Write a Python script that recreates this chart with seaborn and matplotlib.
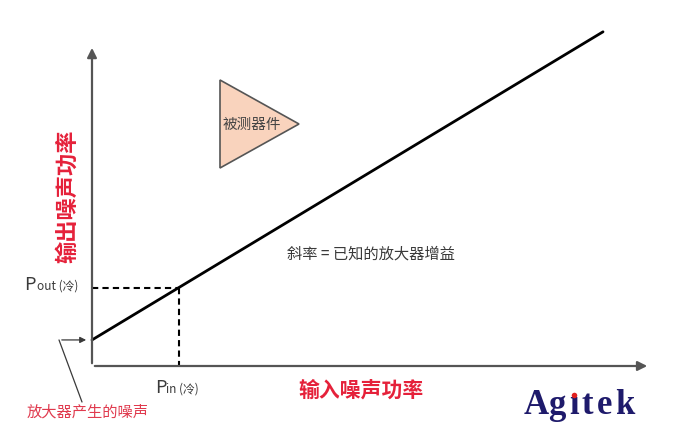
import numpy as np
import pandas as pd
import matplotlib
matplotlib.use("Agg")
import matplotlib.pyplot as plt
import seaborn as sns
from matplotlib.patches import Polygon

# data (arbitrary power units)
input_power = [0.0, 10.0]
output_power = [0.51, 6.54]
p_in_cold = 1.7
p_out_cold = 1.535
amp_noise = 0.51

RED = "#e5213a"
GREY = "#3a3a3a"

sns.set_theme(style="white")
plt.rcParams['font.family'] = ['Noto Sans CJK SC', 'DejaVu Sans']

SCALE = 51.1   # px per unit in the reference
X0, Y0 = 92, 366


def px(x, y):
    # reference pixel position -> data coords (for labels only)
    return (x - X0) / SCALE, (Y0 - y) / SCALE


fig = plt.figure(figsize=(6.77, 4.41), dpi=100)
ax = fig.add_axes([0, 0, 1, 1])
ax.set_xlim(-X0 / SCALE, (677 - X0) / SCALE)
ax.set_ylim((Y0 - 441) / SCALE, Y0 / SCALE)
ax.axis("off")

# axes with arrows
ax.annotate("", xy=(10.92, 0), xytext=(0, 0),
            arrowprops=dict(arrowstyle="-|>", color="#555555", lw=1.6, mutation_scale=14))
ax.annotate("", xy=(0, 6.28), xytext=(0, 0),
            arrowprops=dict(arrowstyle="-|>", color="#555555", lw=1.6, mutation_scale=14))

df = pd.DataFrame({"in": input_power, "out": output_power})
sns.lineplot(data=df, x="in", y="out", ax=ax, color="black", lw=2)

# cold point guides
ax.plot([0, p_in_cold], [p_out_cold, p_out_cold], color="black", ls=(0, (3, 2)), lw=1.5)
ax.plot([p_in_cold, p_in_cold], [p_out_cold, 0], color="black", ls=(0, (3, 2)), lw=1.5)

# DUT triangle
tri = Polygon([px(220, 80), px(220, 168), px(299, 124)], closed=True,
              facecolor="#f9d3bd", edgecolor="#555555", lw=1.2)
ax.add_patch(tri)
ax.text(*px(252, 125), "被测器件", fontsize=10.5, color="#444444", ha="center", va="center")

ax.text(*px(371, 254), "斜率 = 已知的放大器增益", fontsize=11, color=GREY, ha="center", va="center")

ax.text(*px(68, 196), "输出噪声功率", fontsize=16, color=RED, fontweight="bold",
        rotation=90, ha="center", va="center")
ax.text(*px(361, 390), "输入噪声功率", fontsize=15, color=RED, fontweight="bold",
        ha="center", va="center")

# P labels
ax.text(*px(24, 290), "P", fontsize=13, color=GREY, ha="left", va="baseline")
ax.text(*px(37, 290), "out (冷)", fontsize=8.5, color=GREY, ha="left", va="baseline")
ax.text(*px(155, 393), "P", fontsize=13, color=GREY, ha="left", va="baseline")
ax.text(*px(166, 393), "in (冷)", fontsize=8.5, color=GREY, ha="left", va="baseline")

# amplifier noise callout
ax.plot([px(82, 402)[0], px(59, 340)[0]], [px(82, 402)[1], amp_noise], color=GREY, lw=0.9)
ax.annotate("", xy=(-0.06, amp_noise), xytext=(px(59, 340)[0], amp_noise),
            arrowprops=dict(arrowstyle="-|>", color=GREY, lw=0.9, mutation_scale=9))
ax.text(*px(88, 412), "放大器产生的噪声", fontsize=11, color="#e03a4e", ha="center", va="center")

# logo, letters spread a little; dotless i with a red dot
logo_x = [536, 557, 574, 587, 605, 625]
for ch, lx in zip("Agıtek", logo_x):
    ax.text(*px(lx, 406), ch, fontsize=25, fontweight="bold", family="Liberation Serif",
            color="#1e1a6b", ha="center", va="center")
ax.scatter(*px(574.5, 395), s=16, color="#e02020", zorder=5, linewidths=0)

fig.savefig("out.png", dpi=100)
